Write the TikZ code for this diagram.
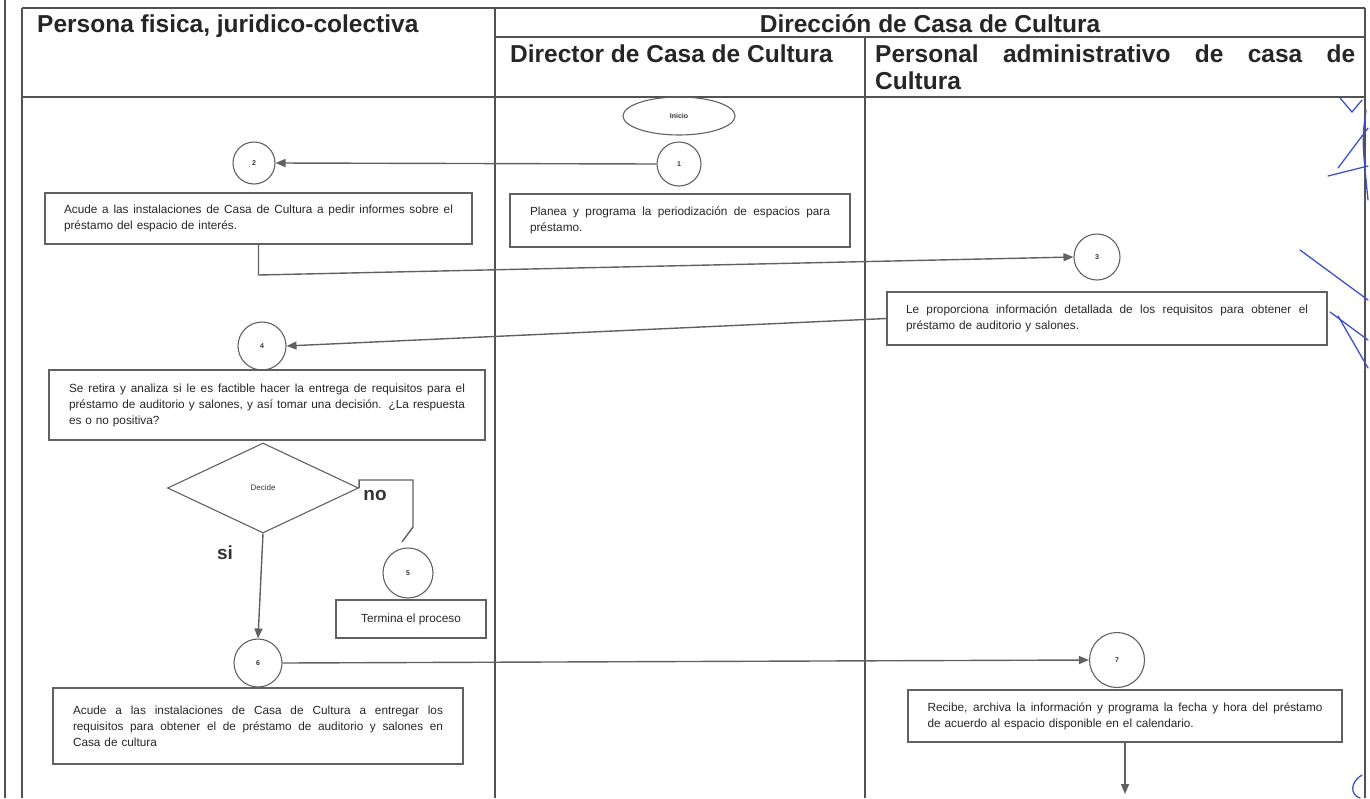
\documentclass[tikz,border=0pt]{standalone}
\usepackage{fontspec}
\setmainfont{Liberation Sans}
\usetikzlibrary{arrows.meta,shapes.geometric}
\definecolor{ln}{gray}{0.38}
\definecolor{fr}{gray}{0.32}
\definecolor{pen}{RGB}{60,80,200}
\newcommand{\jline}[2]{\makebox[#1][s]{\spaceskip=0pt\xspaceskip=0pt #2}}
\tikzset{
  frame/.style={draw=fr, line width=1.6pt},
  box/.style={draw=ln, line width=1.2pt, rectangle, inner sep=0pt, align=left,
    font=\fontsize{11.8}{16}\selectfont, text=black!85},
  num/.style={draw=ln, circle, line width=1.1pt, inner sep=0pt,
    font=\fontsize{7}{8}\selectfont\bfseries, text=black!80},
  conn/.style={draw=ln, line width=1.4pt},
  arr/.style={conn, -{Triangle[length=10pt,width=8pt]}},
  hdr/.style={font=\fontsize{24.5}{28}\selectfont\bfseries, inner sep=0pt, text=black!85},
  lbl/.style={font=\fontsize{19}{22}\selectfont\bfseries, inner sep=0pt, text=black!80},
  penline/.style={draw=pen, line width=1.3pt, line cap=round}
}
\begin{document}
\begin{tikzpicture}[x=1pt,y=-1pt]
\useasboundingbox (0,0) rectangle (1370,798);
% frame
\draw[frame] (5,0) -- (5,798);
\draw[frame] (22,8) -- (22,798);
\draw[frame] (22,8) -- (1365,8);
\draw[frame] (1365,8) -- (1365,798);
\draw[frame] (22,97) -- (1365,97);
\draw[frame] (495,8) -- (495,798);
\draw[frame] (495,37) -- (1365,37);
\draw[frame] (865,37) -- (865,798);
% headers
\node[hdr, anchor=base west] (hP) at (37,32) {Persona fisica, juridico-colectiva};
\node[hdr, anchor=base] (hD) at (930,32) {Dirección de Casa de Cultura};
\node[hdr, anchor=base west] (hDir) at (510,62) {Director de Casa de Cultura};
\node[hdr, anchor=base west] (hPer) at (875,62) {\jline{480pt}{Personal administrativo de casa de}};
\node[hdr, anchor=base west] (hCul) at (875,89) {Cultura};
% nodes
\node[draw=ln, ellipse, line width=1.1pt, minimum width=112pt, minimum height=38pt, inner sep=0pt,
  font=\fontsize{7}{8}\selectfont\bfseries, text=black!80] (ini) at (679,116) {Inicio};
\node[num, minimum size=44pt] (c1) at (679,164) {1};
\node[num, minimum size=42pt] (c2) at (254,163) {2};
\node[box, minimum width=340pt, minimum height=53pt, text width=300pt] (b1) at (680,220.5)
  {\jline{300pt}{Planea y programa la periodización de espacios para}\\préstamo.};
\node[box, minimum width=427pt, minimum height=51pt, text width=389pt] (b2) at (258.5,218.5)
  {\jline{389pt}{Acude a las instalaciones de Casa de Cultura a pedir informes sobre el}\\préstamo del espacio de interés.};
\node[num, minimum size=46pt] (c3) at (1097,257) {3};
\node[box, minimum width=440pt, minimum height=53pt, text width=402pt] (b3) at (1107,318.5)
  {\jline{402pt}{Le proporciona información detallada de los requisitos para obtener el}\\préstamo de auditorio y salones.};
\node[num, minimum size=48pt] (c4) at (262,346) {4};
\node[box, minimum width=436pt, minimum height=70pt, text width=396pt] (b4) at (267,405)
  {\jline{396pt}{Se retira y analiza si le es factible hacer la entrega de requisitos para el}\\
   \jline{396pt}{préstamo de auditorio y salones, y así tomar una decisión. ¿La respuesta}\\es o no positiva?};
\node[draw=ln, diamond, line width=1.1pt, minimum width=191pt, minimum height=90pt, inner sep=0pt,
  font=\fontsize{8}{9}\selectfont, text=black!80] (dec) at (263,488) {Decide};
\node[num, minimum size=50pt] (c5) at (408,573) {5};
\node[box, minimum width=150pt, minimum height=38pt, align=center] (b5) at (411,619) {Termina el proceso};
\node[num, minimum size=48pt] (c6) at (258,663) {6};
\node[box, minimum width=410pt, minimum height=76pt, text width=370pt] (b6) at (258,726)
  {\jline{370pt}{Acude a las instalaciones de Casa de Cultura a entregar los}\\
   \jline{370pt}{requisitos para obtener el de préstamo de auditorio y salones en}\\Casa de cultura};
\node[num, minimum size=55pt] (c7) at (1117,660) {7};
\node[box, minimum width=434pt, minimum height=52pt, text width=395pt] (b7) at (1125,716)
  {\jline{395pt}{Recibe, archiva la información y programa la fecha y hora del préstamo}\\de acuerdo al espacio disponible en el calendario.};
% labels
\node[lbl] (lno) at (375,495) {no};
\node[lbl] (lsi) at (225,553) {si};
% connectors
\draw[arr] (c1.west) -- (c2.east);
\coordinate (k1) at (258.5,275);
\draw[arr] (b2.south) -- (k1) -- (c3.west);
\draw[arr] (b3.west) -- (c4.east);
\draw[arr] (dec.south) -- (c6.north);
\coordinate (k2) at (413,527);
\coordinate (k3) at (402,542);
\draw[conn] (dec.east) -- ++(0,-8) -| (k2) -- (k3);
\draw[arr] (c6.east) -- (c7.west);
\coordinate (k4) at (1125,794);
\draw[arr] (b7.south) -- (k4);
% pen marks
\draw[penline] (1340,98) -- (1352,112) -- (1362,100);
\draw[penline] (1366,110) .. controls (1362,140) .. (1368,200);
\draw[penline] (1338,168) -- (1368,128);
\draw[penline] (1328,176) -- (1368,166);
\draw[penline] (1300,250) -- (1368,300);
\draw[penline] (1330,312) -- (1368,340);
\draw[penline] (1338,316) -- (1368,368);
\draw[penline] (1362,775) .. controls (1350,782) and (1350,795) .. (1360,798);
\end{tikzpicture}
\end{document}
